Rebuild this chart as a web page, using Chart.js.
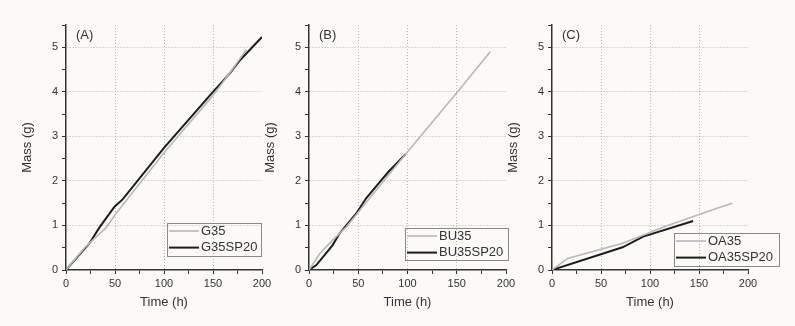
<!DOCTYPE html>
<html>
<head>
<meta charset="utf-8">
<script src="https://cdn.jsdelivr.net/npm/chart.js@4.4.0/dist/chart.umd.min.js"></script>
<style>
  body { margin: 0; background: #fbfaf8; }
  #wrap { position: relative; width: 795px; height: 326px; }
  .panel { position: absolute; top: 0; height: 326px; }
</style>
</head>
<body>
<div id="wrap">
  <div class="panel" style="left:0px;width:276px"><canvas id="chartA"></canvas></div>
  <div class="panel" style="left:243px;width:277px"><canvas id="chartB"></canvas></div>
  <div class="panel" style="left:486px;width:300px"><canvas id="chartC"></canvas></div>
</div>
<script>
// (A) G35 / G35SP20
var g35Time = [0, 20, 41, 51, 100, 150, 169, 184];
var g35Mass = [0, 0.52, 0.95, 1.27, 2.63, 3.92, 4.48, 4.95];
var g35sp20Time = [0, 24, 34, 49.5, 58, 100, 150, 167, 177.5, 200];
var g35sp20Mass = [0, 0.6, 0.95, 1.42, 1.59, 2.74, 4.0, 4.41, 4.71, 5.23];

// (B) BU35 / BU35SP20
var bu35Time = [0, 11, 24, 38, 98, 150, 184];
var bu35Mass = [0, 0.37, 0.67, 0.97, 2.6, 3.98, 4.9];
var bu35sp20Time = [0, 7.5, 24, 31, 48, 58, 72, 80.5, 98];
var bu35sp20Mass = [0, 0.11, 0.56, 0.82, 1.27, 1.61, 1.98, 2.2, 2.6];

// (C) OA35 / OA35SP20
var oa35Time = [0, 16, 72, 116, 169, 184];
var oa35Mass = [0, 0.26, 0.6, 0.98, 1.39, 1.5];
var oa35sp20Time = [0, 72, 93, 144];
var oa35sp20Mass = [0, 0.51, 0.75, 1.1];

var xTicks = [0, 50, 100, 150, 200];
var yTicks = [0, 1, 2, 3, 4, 5];

function pts(xs, ys) {
    return xs.map(function(x, i) { return { x: x, y: ys[i] }; });
}

var fontFam = 'Arial, "Liberation Sans", sans-serif';

// legend box + panel letter drawn inside the plot
var boxLegend = {
    id: 'boxLegend',
    afterDatasetsDraw: function(chart) {
        var o = chart.options.plugins.boxLegend;
        var ca = chart.chartArea;
        var ctx = chart.ctx;
        ctx.save();
        ctx.fillStyle = '#333';
        ctx.font = '13px ' + fontFam;
        ctx.textBaseline = 'middle';
        ctx.textAlign = 'left';
        ctx.fillText(o.letter, ca.left + 10, ca.top + 10);

        var bx = Math.round(ca.right + o.dx - o.w);
        var by = Math.round(ca.bottom - o.dy - o.h);
        ctx.strokeStyle = '#8a8a8a';
        ctx.lineWidth = 1;
        ctx.strokeRect(bx + 0.5, by + 0.5, o.w, o.h);
        chart.data.datasets.forEach(function(ds, i) {
            var ry = by + 8 + i * 16.6;
            ctx.strokeStyle = ds.borderColor;
            ctx.lineWidth = ds.borderWidth;
            ctx.beginPath();
            ctx.moveTo(bx + 2, ry);
            ctx.lineTo(bx + 32, ry);
            ctx.stroke();
            ctx.fillStyle = '#333';
            ctx.fillText(ds.label, bx + 34, ry);
        });
        ctx.restore();
    }
};

function makeChart(id, names, series, leg, padRight) {
    var ctx = document.getElementById(id).getContext('2d');
    return new Chart(ctx, {
        type: 'line',
        data: {
            datasets: [{
                label: names[0],
                data: series[0],
                borderColor: '#b8b8b8',
                borderWidth: 1.6,
                pointRadius: 0,
                tension: 0
            }, {
                label: names[1],
                data: series[1],
                borderColor: '#1c1c1c',
                borderWidth: 2,
                pointRadius: 0,
                tension: 0
            }]
        },
        options: {
            responsive: true,
            maintainAspectRatio: false,
            animation: false,
            layout: {
                padding: { left: 0, right: padRight, top: 25, bottom: 16 }
            },
            plugins: {
                legend: { display: false },
                tooltip: { enabled: false },
                boxLegend: leg
            },
            scales: {
                x: {
                    type: 'linear',
                    min: 0,
                    max: 200,
                    afterFit: function(s) { s.height = 40; },
                    ticks: {
                        stepSize: 25,
                        padding: 3,
                        color: '#333',
                        font: { size: 11, family: fontFam },
                        maxRotation: 0,
                        callback: function(v) { return xTicks.indexOf(v) >= 0 ? v : ''; }
                    },
                    grid: {
                        tickLength: 4,
                        tickColor: '#333',
                        color: function(c) {
                            var v = c.tick ? c.tick.value : 0;
                            return (v > 0 && v < 200 && v % 50 === 0) ? '#b8b8b8' : 'rgba(0,0,0,0)';
                        }
                    },
                    border: { color: '#333', width: 1.5, dash: [1, 2] },
                    title: {
                        display: true,
                        text: 'Time (h)',
                        color: '#333',
                        font: { size: 13, family: fontFam },
                        padding: 0
                    }
                },
                y: {
                    min: 0,
                    max: 5.5,
                    afterFit: function(s) { s.width = 66; },
                    ticks: {
                        stepSize: 0.5,
                        padding: 4,
                        color: '#333',
                        font: { size: 11, family: fontFam },
                        callback: function(v) { return yTicks.indexOf(v) >= 0 ? v : ''; }
                    },
                    grid: {
                        tickLength: 4,
                        tickColor: '#333',
                        color: function(c) {
                            var v = c.tick ? c.tick.value : 0;
                            return (v > 0 && Number.isInteger(v)) ? '#b8b8b8' : 'rgba(0,0,0,0)';
                        }
                    },
                    border: { color: '#333', width: 1.5, dash: [1, 2] },
                    title: {
                        display: true,
                        text: 'Mass (g)',
                        color: '#333',
                        font: { size: 13, family: fontFam },
                        padding: { top: 20, bottom: 0 }
                    }
                }
            }
        },
        plugins: [boxLegend]
    });
}

makeChart('chartA', ['G35', 'G35SP20'],
    [pts(g35Time, g35Mass), pts(g35sp20Time, g35sp20Mass)],
    { letter: '(A)', dx: -1, dy: 14, w: 94, h: 33 }, 14);

makeChart('chartB', ['BU35', 'BU35SP20'],
    [pts(bu35Time, bu35Mass), pts(bu35sp20Time, bu35sp20Mass)],
    { letter: '(B)', dx: 2, dy: 10, w: 103, h: 32 }, 14);

makeChart('chartC', ['OA35', 'OA35SP20'],
    [pts(oa35Time, oa35Mass), pts(oa35sp20Time, oa35sp20Mass)],
    { letter: '(C)', dx: 31, dy: 4, w: 105, h: 33 }, 38);
</script>
</body>
</html>
